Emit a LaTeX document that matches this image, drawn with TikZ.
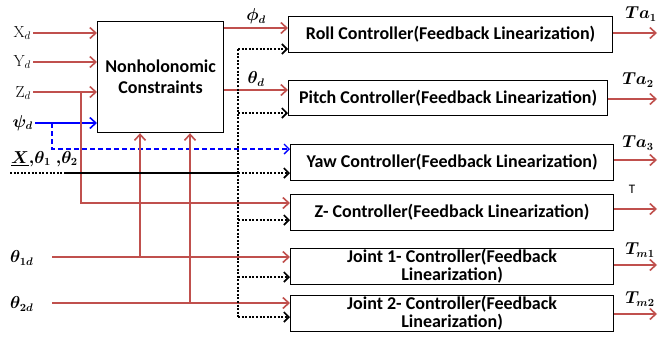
\documentclass[tikz,border=0pt]{standalone}
\usepackage{amsmath}
\usepackage{fontspec}
\newfontfamily\boxfont{Carlito}[BoldFont={* Bold}]
\usetikzlibrary{arrows.meta}
\definecolor{myred}{RGB}{192,80,77}
\newcommand\bmth[1]{{\boldmath$#1$}}
\tikzset{
  ctrl/.style={draw, line width=1.2pt, inner sep=0pt, font=\boxfont\bfseries\fontsize{18}{19}\selectfont},
  redarr/.style={draw=myred, line width=1.6pt, -{Straight Barb[length=6pt,width=11pt,line width=1.6pt]}},
  dotarr/.style={draw=black, line width=2pt, dash pattern=on 2pt off 1.6pt, -{Straight Barb[length=5pt,width=10pt,line width=1.6pt]}},
  dotln/.style={draw=black, line width=2pt, dash pattern=on 2pt off 1.6pt},
  bluearr/.style={draw=blue, line width=1.5pt, dash pattern=on 5pt off 3pt, -{Straight Barb[length=5pt,width=10pt,line width=1.4pt]}},
  lbl/.style={inner sep=0pt, font=\fontsize{16}{17}\selectfont},
}
\begin{document}
\begin{tikzpicture}[x=1pt,y=-1pt]
\useasboundingbox (0,0) rectangle (661,338);
% main block
\node[ctrl, minimum width=126pt, minimum height=111pt, align=center, anchor=north west] (nh) at (97,21) {Nonholonomic\\[2pt]Constraints};
% controllers
\node[ctrl, minimum width=324pt, minimum height=36pt, anchor=north west] (roll) at (288,16) {Roll Controller(Feedback Linearization)};
\node[ctrl, minimum width=319pt, minimum height=35pt, anchor=north west] (pitch) at (288,80) {Pitch Controller(Feedback Linearization)};
\node[ctrl, minimum width=323pt, minimum height=36pt, anchor=north west] (yaw) at (290,144) {Yaw Controller(Feedback Linearization)};
\node[ctrl, minimum width=323pt, minimum height=36pt, anchor=north west] (zc) at (290,194) {Z- Controller(Feedback Linearization)};
\node[ctrl, minimum width=323pt, minimum height=36pt, anchor=north west, align=center, font=\boxfont\bfseries\fontsize{18}{18}\selectfont] (j1) at (290,248) {Joint 1- Controller(Feedback\\Linearization)};
\node[ctrl, minimum width=323pt, minimum height=36pt, anchor=north west, align=center, font=\boxfont\bfseries\fontsize{18}{18}\selectfont] (j2) at (290,295) {Joint 2- Controller(Feedback\\Linearization)};
% left labels
\node[lbl, anchor=east] (lx) at (31,33) {X$_{d}$};
\node[lbl, anchor=east] (ly) at (31,62) {Y$_{d}$};
\node[lbl, anchor=east] (lz) at (31,93) {Z$_{d}$};
\node[lbl, anchor=east] (lpsi) at (33,123) {\bmth{\psi_{d}}};
\node[lbl, anchor=west] (lxt) at (11,159) {\bmth{\underline{X}{,}\theta_1\ {,}\theta_2}};
\node[lbl, anchor=west] (lt1) at (10,258) {\bmth{\theta_{1d}}};
\node[lbl, anchor=west] (lt2) at (10,304) {\bmth{\theta_{2d}}};
% coordinates
\coordinate (xs) at (33,33);
\coordinate (ys) at (33,62);
\coordinate (zs) at (33,92);
\coordinate (ps) at (35,123);
\coordinate (t1s) at (52,257);
\coordinate (t2s) at (52,303);
\coordinate (ds) at (10,173);
\coordinate (dv) at (238,173);
% inputs to nonholonomic
\draw[redarr] (xs) -- (xs -| nh.west);
\draw[redarr] (ys) -- (ys -| nh.west);
\draw[redarr] (zs) -- (zs -| nh.west);
\draw[draw=blue, line width=1.6pt, -{Straight Barb[length=6pt,width=11pt,line width=1.6pt]}] (ps) -- (ps -| nh.west);
% blue dashed to yaw
\draw[bluearr] (52,123) -- (52,149) -- (yaw.west |- 0,149);
% Z_d branch to Z controller
\draw[redarr] (81,92) -- (81,203) -- (zc.west |- 0,203);
% nh outputs
\draw[redarr] (nh.east |- 0,28) -- (roll.west |- 0,28) node[midway, above=3pt, lbl] {\bmth{\phi_d}};
\draw[redarr] (nh.east |- 0,90) -- (pitch.west |- 0,90) node[midway, above=3pt, lbl] {\bmth{\theta_d}};
% theta inputs
\draw[redarr] (t1s) -- (j1.west |- t1s);
\draw[redarr] (t2s) -- (j2.west |- t2s);
\draw[redarr] (140,257) -- (nh.south -| 140,0);
\draw[redarr] (190,303) -- (nh.south -| 190,0);
% dotted state bus
\draw[dotln] (ds) -- (dv);
\draw[black, line width=2.6pt] (66,173) -- (dv);
\draw[dotln] (238,49) -- (238,317);
\draw[dotarr] (238,49) -- (roll.west |- 0,49);
\draw[dotarr] (238,113) -- (pitch.west |- 0,113);
\draw[dotarr] (dv) -- (yaw.west |- dv);
\draw[dotarr] (238,220) -- (zc.west |- 0,220);
\draw[dotarr] (238,277) -- (j1.west |- 0,277);
\draw[dotarr] (238,317) -- (j2.west |- 0,317);
% outputs
\coordinate (o1) at (657,33);
\coordinate (o2) at (657,99);
\coordinate (o3) at (657,160);
\coordinate (o4) at (657,209);
\coordinate (o5) at (657,265);
\coordinate (o6) at (657,314);
\draw[redarr] (roll.east |- o1) -- (o1);
\draw[redarr] (pitch.east |- o2) -- (o2);
\draw[redarr] (yaw.east |- o3) -- (o3);
\draw[redarr] (zc.east |- o4) -- (o4);
\draw[redarr] (j1.east |- o5) -- (o5);
\draw[redarr] (j2.east |- o6) -- (o6);
\node[lbl] (ta1) at (641,14) {\bmth{Ta_1}};
\node[lbl] (ta2) at (638,80) {\bmth{Ta_2}};
\node[lbl] (ta3) at (638,143) {\bmth{Ta_3}};
\node[lbl, font=\boxfont\fontsize{13}{14}\selectfont] (tt) at (632,189) {T};
\node[lbl] (tm1) at (640,250) {\bmth{T_{m1}}};
\node[lbl] (tm2) at (640,299) {\bmth{T_{m2}}};
\end{tikzpicture}
\end{document}
